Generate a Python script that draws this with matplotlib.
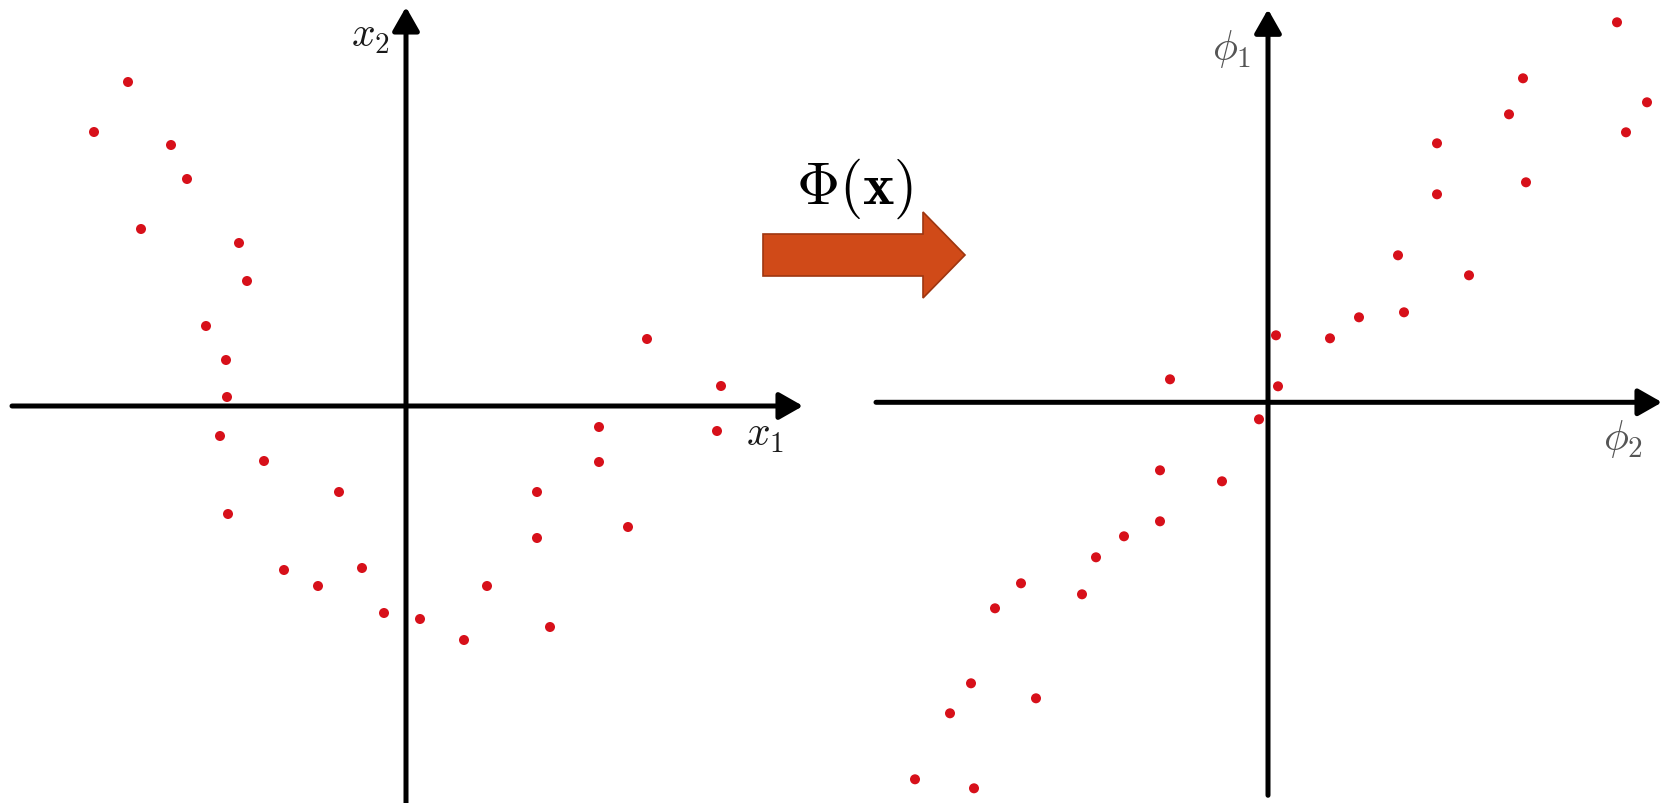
import matplotlib
matplotlib.use("Agg")
import matplotlib.pyplot as plt
from matplotlib.patches import FancyArrow

plt.rcParams["mathtext.fontset"] = "cm"

# input space (x1, x2), origin at the axes crossing
x1 = [-2.78, -3.12, -2.35, -2.19, -2.65, -1.67, -1.59, -2.00, -1.80, -1.79,
      -1.86, -1.42, -0.67, -1.78, -1.22, -0.88, -0.44, -0.22, 0.14, 0.58,
      1.44, 0.81, 1.31, 2.22, 1.31, 1.93, 1.93, 3.11, 3.15, 2.41]
x2 = [3.24, 2.74, 2.61, 2.27, 1.77, 1.63, 1.25, 0.80, 0.46, 0.09,
      -0.30, -0.55, -0.86, -1.08, -1.64, -1.80, -1.62, -2.07, -2.13, -2.34,
      -2.21, -1.80, -1.32, -1.21, -0.86, -0.56, -0.21, -0.25, 0.20, 0.67]

# feature space (phi2 horizontal, phi1 vertical)
phi2 = [-0.98, -0.09, -1.08, -0.46, -1.08, -1.44, -1.72, -2.47, -2.73, -1.86,
        -2.97, -2.32, -3.18, -3.53, -2.94, 3.49, 2.55, 3.79, 2.41, 3.58,
        1.69, 2.58, 1.69, 1.30, 2.01, 1.36, 0.91, 0.62, 0.08, 0.10]
phi1 = [0.23, -0.17, -0.68, -0.79, -1.19, -1.34, -1.55, -1.81, -2.06, -1.92,
        -2.81, -2.96, -3.11, -3.77, -3.86, 3.80, 3.24, 3.00, 2.88, 2.70,
        2.59, 2.20, 2.08, 1.47, 1.27, 0.90, 0.85, 0.64, 0.67, 0.16]

W, H = 1667, 804
DOT = "#d7101a"

fig = plt.figure(figsize=(W / 100, H / 100), dpi=100)


def axis_arrow(ax, start, end):
    ax.annotate(
        "", xy=end, xytext=start,
        arrowprops=dict(arrowstyle="-|>,head_length=0.72,head_width=0.41",
                        mutation_scale=20, lw=3.6, color="black",
                        shrinkA=0, shrinkB=0),
    )


def panel(rect, xlim, ylim, xs, ys, hline, vline, xlab, ylab, labcolor):
    ax = fig.add_axes(rect)
    ax.set_xlim(*xlim)
    ax.set_ylim(*ylim)
    ax.axis("off")
    axis_arrow(ax, (hline[0], 0), (hline[1], 0))
    axis_arrow(ax, (0, vline[0]), (0, vline[1]))
    ax.scatter(xs, ys, s=52, color=DOT, edgecolors="none", zorder=3)
    ax.text(*xlab[0], xlab[1], fontsize=30, color=labcolor,
            ha="center", va="center")
    ax.text(*ylab[0], ylab[1], fontsize=30, color=labcolor,
            ha="center", va="center")
    return ax


half = 833 / W
panel([0, 0, half, 1], (-4.06, 4.27), (-3.97, 4.07), x1, x2,
      (-3.94, 3.97), (-4.2, 3.99),
      ((3.59, -0.27), r"$x_1$"), ((-0.36, 3.72), r"$x_2$"), "#1a1a1a")
panel([half, 0, 1 - half, 1], (-4.35, 3.99), (-4.007, 4.033), phi2, phi1,
      (-3.92, 3.94), (-3.93, 3.93),
      ((3.55, -0.36), r"$\phi_2$"), ((-0.36, 3.54), r"$\phi_1$"), "#555555")

# mapping arrow between the panels
top = fig.add_axes([0, 0, 1, 1])
top.set_xlim(0, W)
top.set_ylim(H, 0)
top.axis("off")
top.add_patch(FancyArrow(763, 256, 202, 0, width=42, head_width=86,
                         head_length=42, length_includes_head=True,
                         facecolor="#d04a18", edgecolor="#9e3610", lw=1.2))
top.text(855, 189, r"$\Phi(\mathbf{x})$", fontsize=43, color="black",
         ha="center", va="center")

fig.savefig("out.png", dpi=100)
